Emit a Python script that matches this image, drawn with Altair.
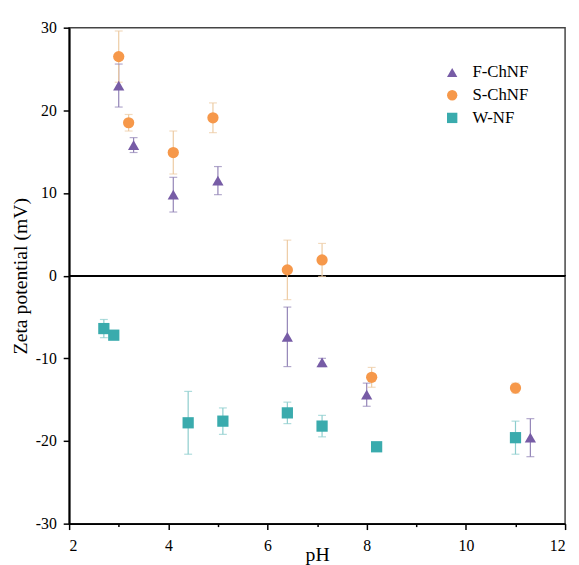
import altair as alt
import pandas as pd

# ---- data ----
series_names = ["F-ChNF", "S-ChNF", "W-NF"]

f_ph = [3.0, 3.3, 4.1, 5.0, 6.4, 7.1, 8.0, 11.3]
f_zeta = [23.0, 15.8, 9.8, 11.5, -7.4, -10.5, -14.4, -19.6]
f_err = [2.6, 0.9, 2.1, 1.7, 3.6, 0.5, 1.4, 2.3]

s_ph = [3.0, 3.2, 4.1, 4.9, 6.4, 7.1, 8.1, 11.0]
s_zeta = [26.5, 18.5, 14.9, 19.1, 0.7, 1.9, -12.3, -13.6]
s_err = [3.1, 1.0, 2.6, 1.8, 3.6, 2.0, 1.2, 0.6]

w_ph = [2.7, 2.9, 4.4, 5.1, 6.4, 7.1, 8.2, 11.0]
w_zeta = [-6.4, -7.2, -17.8, -17.6, -16.6, -18.2, -20.7, -19.6]
w_err = [1.1, 0.4, 3.8, 1.6, 1.3, 1.3, 0.5, 2.0]

x_ticks = [2, 3, 4, 5, 6, 7, 8, 9, 10, 11, 12]
y_ticks = [-30, -20, -10, 0, 10, 20, 30]

rows = []
for name, xs, ys, es in zip(series_names,
                            [f_ph, s_ph, w_ph],
                            [f_zeta, s_zeta, w_zeta],
                            [f_err, s_err, w_err]):
    for x, y, e in zip(xs, ys, es):
        rows.append({"series": name, "pH": x, "zeta": y, "err": e})
df = pd.DataFrame(rows)

FONT = "Liberation Serif, Times New Roman, DejaVu Serif, serif"
colors = ["#775CA6", "#F6984A", "#3AABAD"]
err_colors = ["#9283B6", "#EDCBA3", "#8CCDCD"]
shapes = ["triangle-up", "circle", "square"]

xscale = alt.Scale(domain=[2, 12], nice=False, zero=False)
yscale = alt.Scale(domain=[-30, 30], nice=False, zero=False)
cscale = alt.Scale(domain=series_names, range=colors)
# error-bar colour scale: data-driven domain (sorted = same order as series_names)
escale = alt.Scale(range=err_colors)

base = alt.Chart(df).transform_calculate(
    lo="datum.zeta - datum.err", hi="datum.zeta + datum.err", grp="datum.series"
)

xenc = alt.X("pH:Q", scale=xscale, axis=alt.Axis(
    values=x_ticks, title="pH",
    labelExpr="datum.value % 2 == 0 ? toString(datum.value) : ''",
    tickSize={"condition": {"test": "datum.value % 2 == 1", "value": 3}, "value": 6},
    labelPadding=8, titlePadding=-9,
))
yenc_axis = alt.Axis(values=y_ticks, title="Zeta potential (mV)", tickSize=6,
                     labelExpr="toString(datum.value)",
                     labelPadding=7, titlePadding=5)

zero = alt.Chart(df).mark_rule(color="black", strokeWidth=1).encode(y=alt.datum(0, scale=yscale))

err_rule = base.mark_rule(strokeWidth=1.2).encode(
    x=alt.X("pH:Q", scale=xscale),
    y=alt.Y("lo:Q", scale=yscale),
    y2="hi:Q",
    stroke=alt.Stroke("grp:N", scale=escale, sort="ascending", legend=None),
)
err_lo = base.mark_tick(orient="horizontal", size=8, thickness=1.2).encode(
    x=alt.X("pH:Q", scale=xscale),
    y=alt.Y("lo:Q", scale=yscale),
    fill=alt.Fill("grp:N", scale=escale, sort="ascending", legend=None),
)
err_hi = base.mark_tick(orient="horizontal", size=8, thickness=1.2).encode(
    x=alt.X("pH:Q", scale=xscale),
    y=alt.Y("hi:Q", scale=yscale),
    fill=alt.Fill("grp:N", scale=escale, sort="ascending", legend=None),
)

points = base.mark_point(filled=True, opacity=1, size=130).encode(
    x=xenc,
    y=alt.Y("zeta:Q", scale=yscale, axis=yenc_axis),
    color=alt.Color("series:N", scale=cscale,
                    legend=alt.Legend(title=None, orient="none", legendX=380, legendY=37,
                                      labelFont=FONT, labelFontSize=17, labelColor="black",
                                      symbolSize=110, labelOffset=12, rowPadding=5,
                                      symbolStrokeWidth=0, symbolOpacity=1)),
    shape=alt.Shape("series:N", scale=alt.Scale(domain=series_names, range=shapes)),
)

chart = alt.layer(zero, err_rule, err_lo, err_hi, points).properties(
    width=503, height=503,
    autosize=alt.AutoSizeParams(type="none"),
    padding={"left": 62, "top": 16, "right": 6, "bottom": 40},
).configure(font=FONT).configure_view(
    stroke="#444", strokeWidth=1.5
).configure_axis(
    grid=False, labelFont=FONT, titleFont=FONT, labelFontSize=16, titleFontSize=20,
    labelColor="black", titleColor="black", titleFontWeight="normal",
    domainColor="black", domainWidth=2, tickColor="black", tickWidth=1.5,
).configure_legend(padding=0, labelFont=FONT)

chart.save("out.html", embed_options={"renderer": "svg", "actions": False})
